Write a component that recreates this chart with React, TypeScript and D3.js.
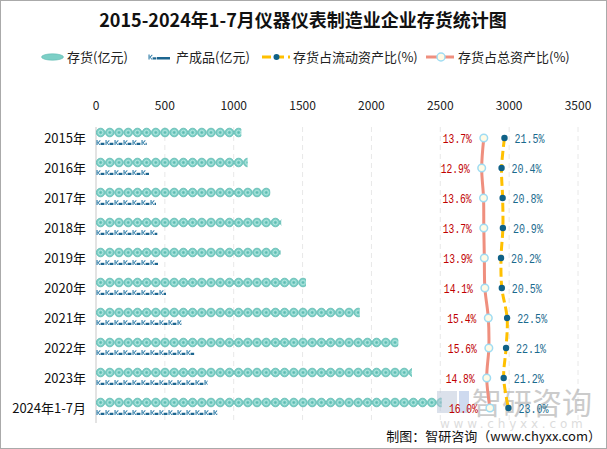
import React from 'react';
import * as d3 from 'd3';

const categories = ['2015年', '2016年', '2017年', '2018年', '2019年', '2020年', '2021年', '2022年', '2023年', '2024年1-7月'];
const inventory = [1055, 1100, 1265, 1345, 1340, 1525, 1915, 2195, 2295, 2510];
const finished = [368, 385, 436, 445, 450, 508, 622, 714, 810, 881];
const currentRatio = [21.5, 20.4, 20.8, 20.9, 20.2, 20.5, 22.5, 22.1, 21.2, 23.0];
const totalRatio = [13.7, 12.9, 13.6, 13.7, 13.9, 14.1, 15.4, 15.6, 14.8, 16.0];
const xTicks = [0, 500, 1000, 1500, 2000, 2500, 3000, 3500];

const W = 607, H = 449;
const CJK = '"Noto Sans CJK SC", "Noto Sans", sans-serif';
const MONO = '"Liberation Mono", "DejaVu Sans Mono", monospace';

export default function App() {
  const x = d3.scaleLinear().domain([0, 3500]).range([96, 578]);
  const y = d3.scaleBand().domain(categories).range([123, 423]);
  const r = d3.scaleLinear().domain([0, 50]).range([447.5, 580]);
  const cy = (c: string) => (y(c) as number) + y.bandwidth() / 2;

  const line = d3.line<[number, number]>().x(d => d[0]).y(d => d[1]).curve(d3.curveCatmullRom.alpha(0.5));
  const totalPts: [number, number][] = categories.map((c, i) => [r(totalRatio[i]), cy(c)]);
  const curPts: [number, number][] = categories.map((c, i) => [r(currentRatio[i]), cy(c)]);

  const D = 9.2;
  const G = 9;

  const circleSym = (cx: number, cyy: number, key: string | number) => (
    <g key={key} transform={`translate(${cx},${cyy})`}>
      <circle r={4.3} fill="#7ccfc6" stroke="#5db9b0" strokeWidth={0.8} />
      <circle r={2.3} fill="none" stroke="#b5e6e0" strokeWidth={0.9} />
      <circle r={0.9} fill="#5db9b0" />
    </g>
  );
  const fishSym = (gx: number, gy: number, key: string | number) => (
    <g key={key} transform={`translate(${gx},${gy})`}>
      <path d="M0.5,-2.5 L1.6,-2.5 L1.6,2.5 L0.5,2.5 Z M1.6,0 L4,-2.5 L4.6,-1.8 L2.6,0.2 L4.6,2.5 L3.4,2.5 Z" fill="#2a7aa6" />
      <path d="M4.6,0.3 L8.4,0.3 L8.4,2.5 L4.6,2.5 Z" fill="#1d6690" />
    </g>
  );

  return (
    <svg width={W} height={H} style={{ position: 'fixed', left: 0, top: 0, background: '#fff' }} fontFamily={CJK}>
      <defs>
        {categories.map((c, i) => (
          <React.Fragment key={c}>
            <clipPath id={`ci${i}`}>
              <rect x={x(0)} y={cy(c) - 12} width={x(inventory[i]) - x(0)} height={12} />
            </clipPath>
            <clipPath id={`cf${i}`}>
              <rect x={x(0)} y={cy(c) - 1} width={x(finished[i]) - x(0)} height={10} />
            </clipPath>
          </React.Fragment>
        ))}
      </defs>
      <rect x={0.5} y={0.5} width={W - 1} height={H - 1} fill="#fff" stroke="#aaa" strokeWidth={1} />

      {/* Title */}
      <text x={303} y={27} textAnchor="middle" fontSize={18} fontWeight="bold" fill="#111" fontFamily={'"Noto Sans CJK SC", serif'}>
        2015-2024年1-7月仪器仪表制造业企业存货统计图
      </text>

      {/* Legend */}
      <g fontSize={13} fill="#222">
        <ellipse cx={52.5} cy={57} rx={11} ry={3.2} fill="#7ccfc6" stroke="#5db9b0" strokeWidth={0.6} />
        <text x={67} y={61.5}>存货(亿元)</text>
        {fishSym(148, 57, 'lg1')}
        <rect x={157} y={57} width={13} height={2.5} fill="#1d6690" />
        <text x={176} y={61.5}>产成品(亿元)</text>
        <line x1={262} y1={57} x2={290} y2={57} stroke="#ffc000" strokeWidth={3} strokeDasharray="9,4" />
        <circle cx={276.5} cy={57} r={3} fill="#0f6187" />
        <text x={293} y={61.5}>存货占流动资产比(%)</text>
        <line x1={426} y1={57} x2={454} y2={57} stroke="#ef8f7e" strokeWidth={3} />
        <circle cx={441} cy={57} r={4} fill="#fffbe6" stroke="#9fdcf3" strokeWidth={1.5} />
        <text x={458} y={61.5}>存货占总资产比(%)</text>
      </g>

      {/* X axis labels */}
      {xTicks.map(t => (
        <text key={t} x={x(t)} y={110} textAnchor="middle" fontSize={12} fill="#222">{t}</text>
      ))}
      {/* Gridlines */}
      {xTicks.slice(1).map(t => (
        <line key={t} x1={x(t)} x2={x(t)} y1={127} y2={423} stroke="#e8e8e8" strokeWidth={1} strokeDasharray="5,4" />
      ))}
      <line x1={x(0)} x2={x(0)} y1={127} y2={423} stroke="#d0d0d0" strokeWidth={1.2} />

      {/* Y labels */}
      {categories.map(c => (
        <text key={c} x={86} y={cy(c) + 4.5} textAnchor="end" fontSize={13} fill="#111">{c}</text>
      ))}

      {/* Pictorial bars */}
      {categories.map((c, i) => {
        const wI = x(inventory[i]) - x(0);
        const nI = Math.ceil(wI / D);
        const wF = x(finished[i]) - x(0);
        const nF = Math.ceil(wF / G);
        return (
          <g key={c}>
            <g clipPath={`url(#ci${i})`}>
              {d3.range(nI).map(k => circleSym(x(0) + D / 2 + k * D, cy(c) - 5.5, k))}
            </g>
            <g clipPath={`url(#cf${i})`}>
              {d3.range(nF).map(k => fishSym(x(0) + k * G, cy(c) + 4.5, k))}
            </g>
          </g>
        );
      })}

      {/* Watermark */}
      <g opacity={0.5}>
        <rect x={437} y={391} width={20} height={22} fill="#b8c4d8" />
        <rect x={459} y={391} width={10} height={22} fill="#9fb7e0" />
        <text x={472} y={414} fontSize={30} fill="#999" fontFamily={CJK}>智研咨询</text>
        <text x={440} y={428} fontSize={12} fill="#bbb" letterSpacing={3.8} fontFamily={'"DejaVu Sans", sans-serif'}>www.chyxx.com</text>
      </g>

      {/* Lines */}
      <path d={line(totalPts) || ''} fill="none" stroke="#ef8f7e" strokeWidth={3} />
      <path d={line(curPts) || ''} fill="none" stroke="#ffc000" strokeWidth={3} strokeDasharray="9,4" />
      {totalPts.map((p, i) => (
        <g key={'t' + i}>
          <circle cx={p[0]} cy={p[1]} r={3.8} fill="#fffbe6" stroke="#9fdcf3" strokeWidth={1.5} />
          <text x={p[0] - 12} y={p[1] + 4.5} textAnchor="end" fontSize={12} fill="#c00000" fontFamily={MONO} textLength={29} lengthAdjust="spacingAndGlyphs">{totalRatio[i].toFixed(1)}%</text>
        </g>
      ))}
      {curPts.map((p, i) => (
        <g key={'c' + i}>
          <circle cx={p[0]} cy={p[1]} r={3.2} fill="#0f6187" />
          <text x={p[0] + 10} y={p[1] + 4.5} textAnchor="start" fontSize={12} fill="#1a6a8e" fontFamily={MONO} textLength={30} lengthAdjust="spacingAndGlyphs">{currentRatio[i].toFixed(1)}%</text>
        </g>
      ))}

      {/* Footer */}
      <text x={601} y={441} textAnchor="end" fontSize={13} fill="#111">制图：智研咨询（www.chyxx.com）</text>
    </svg>
  );
}
